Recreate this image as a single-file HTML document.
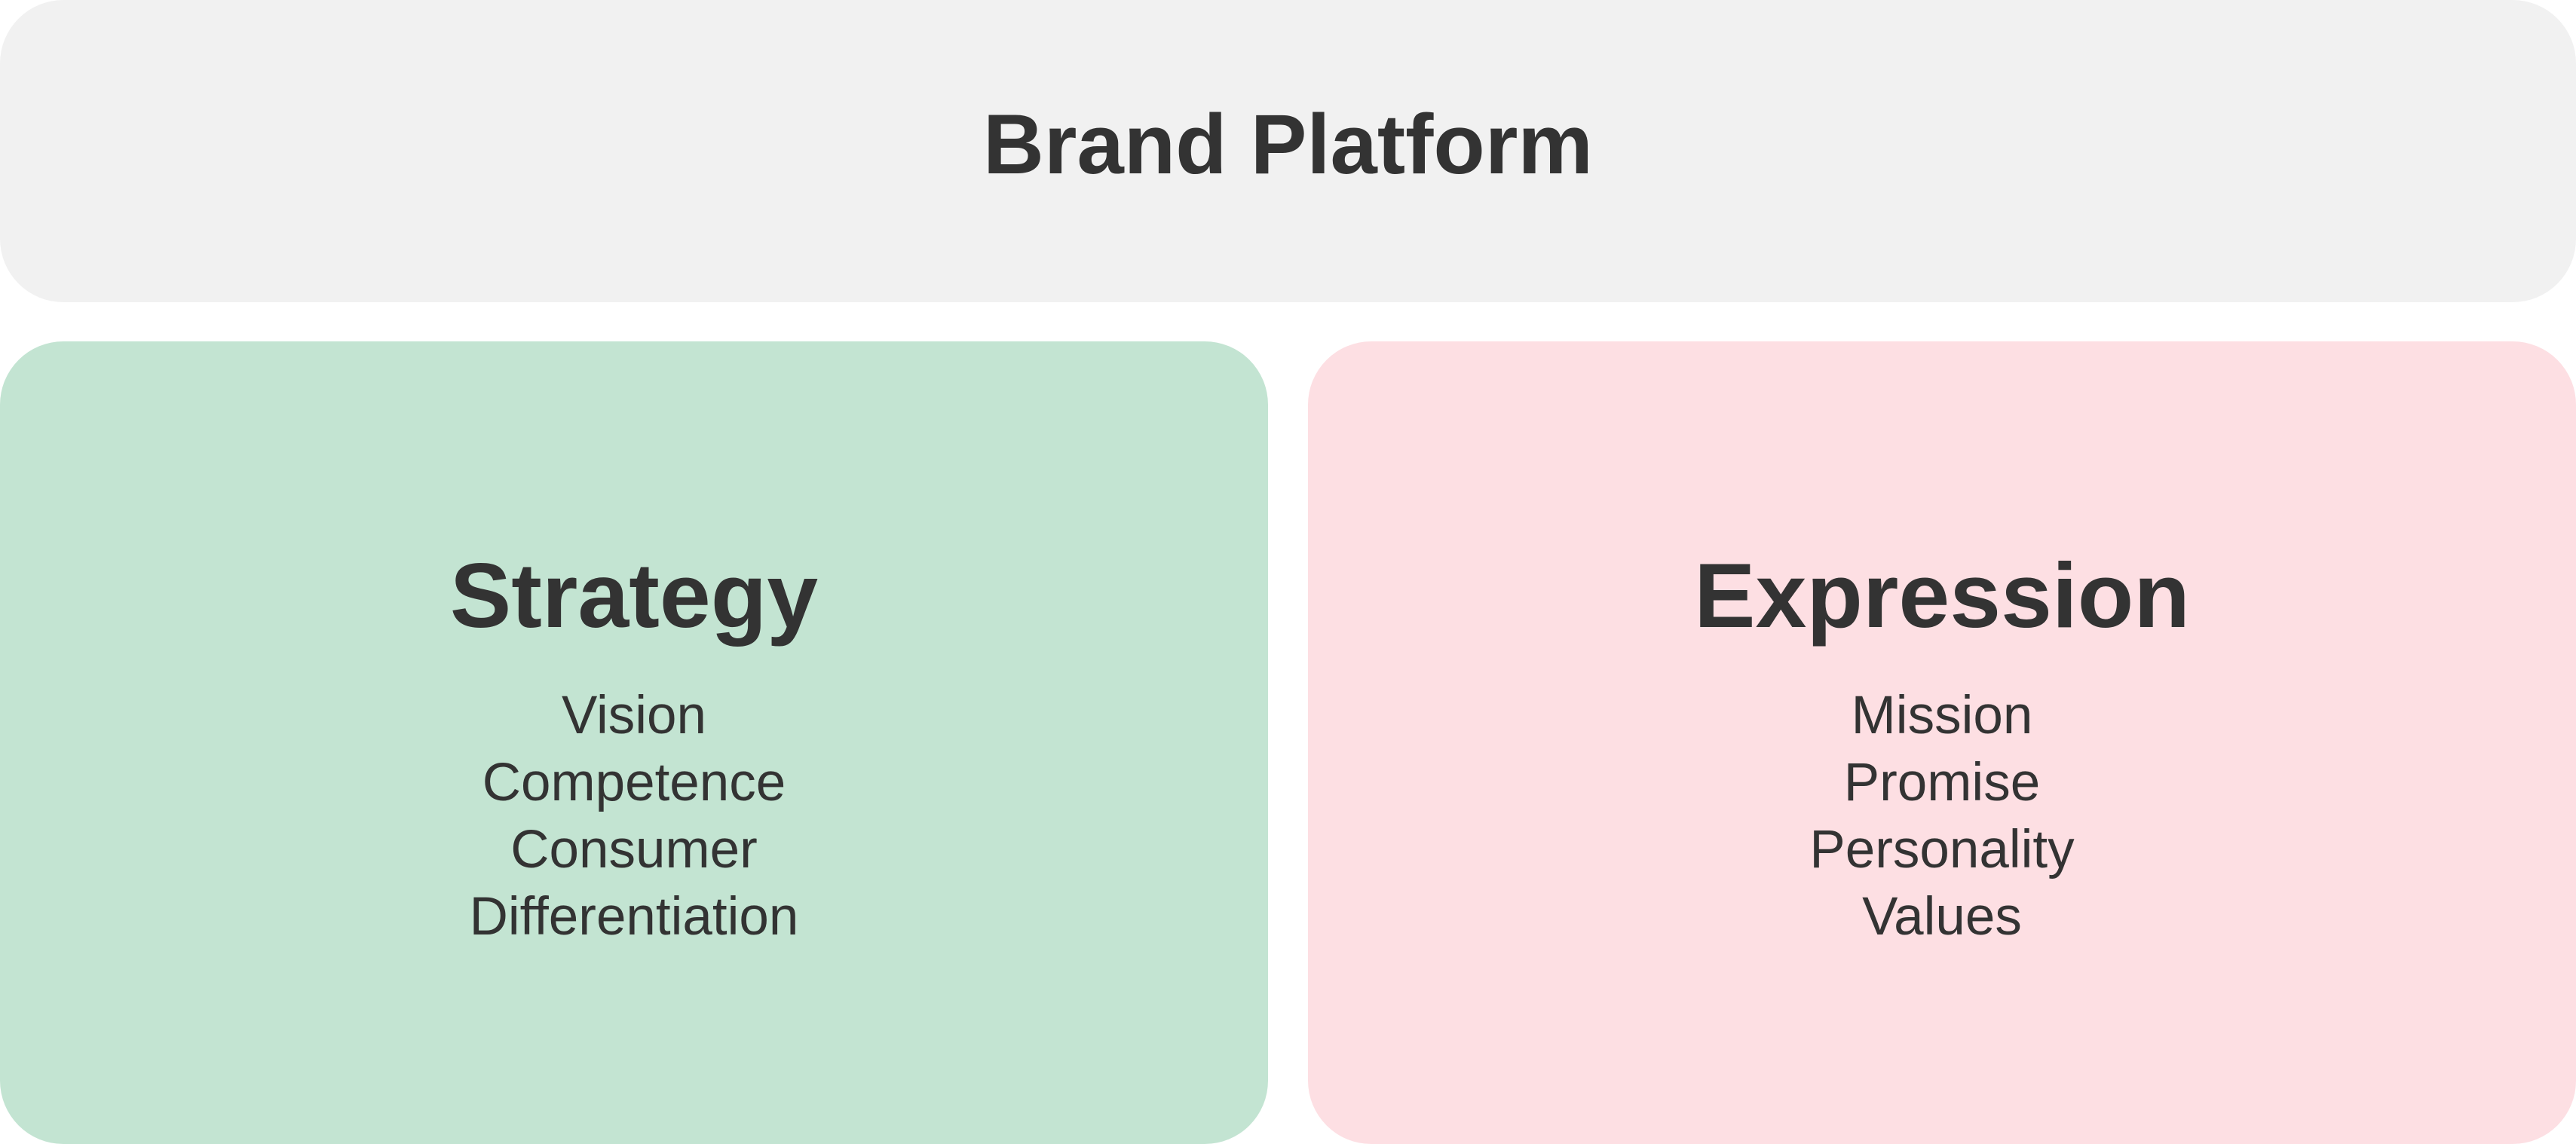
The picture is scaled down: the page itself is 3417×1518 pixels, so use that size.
<!DOCTYPE html>
<html>
<head>
<meta charset="utf-8">
<style>
  html,body{margin:0;padding:0;}
  body{width:3417px;height:1518px;background:#ffffff;position:relative;overflow:hidden;font-family:"Liberation Sans",sans-serif;color:#333333;}
  .box{position:absolute;border-radius:84px;}
  .top{left:0;top:0;width:3417px;height:401px;background:#f1f1f1;}
  .green{left:0;top:453px;width:1682px;height:1065px;background:#c3e4d2;}
  .pink{left:1735px;top:453px;width:1682px;height:1065px;background:#fddfe3;}
  .title{position:absolute;left:0;width:100%;text-align:center;font-weight:bold;}
  .t1{top:122px;font-size:112px;line-height:140px;}
  .t2{font-size:122px;line-height:150px;}
  .list{position:absolute;left:0;width:100%;text-align:center;font-size:71px;line-height:89px;}
</style>
</head>
<body>
  <div class="box top"><div class="title t1">Brand Platform</div></div>
  <div class="box green">
    <div class="title t2" style="top:262px">Strategy</div>
    <div class="list" style="top:452px">Vision<br>Competence<br>Consumer<br>Differentiation</div>
  </div>
  <div class="box pink">
    <div class="title t2" style="top:262px">Expression</div>
    <div class="list" style="top:452px">Mission<br>Promise<br>Personality<br>Values</div>
  </div>
</body>
</html>
